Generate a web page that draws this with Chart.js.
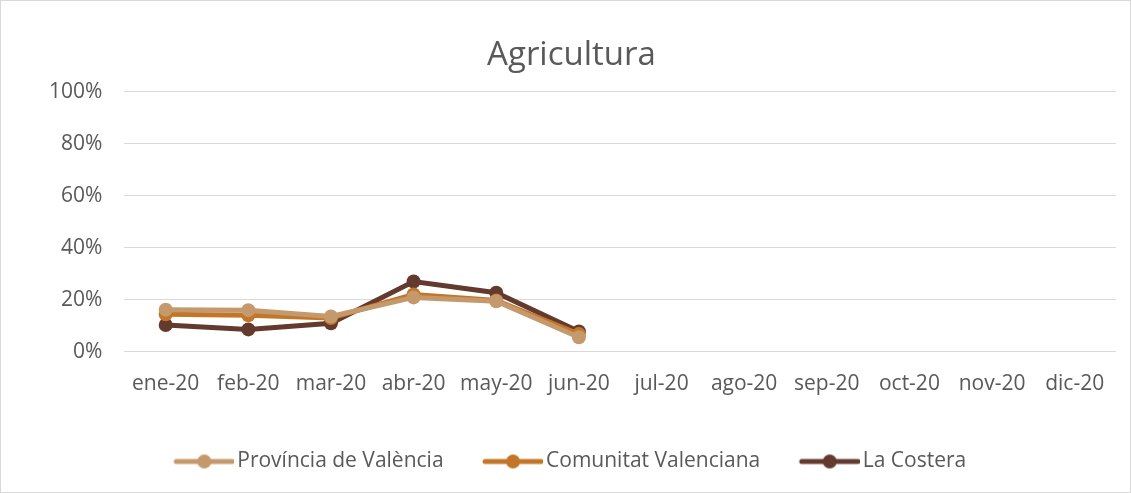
<!DOCTYPE html>
<html>
<head>
<meta charset="utf-8">
<script src="https://cdn.jsdelivr.net/npm/chart.js@4"></script>
<style>
  html, body { margin: 0; padding: 0; background: #fff; }
  #wrap { position: relative; width: 1129px; height: 491px; border: 1px solid #d9d9d9; }
</style>
</head>
<body>
<div id="wrap"><canvas id="c"></canvas></div>
<script>
  const months = ['ene-20', 'feb-20', 'mar-20', 'abr-20', 'may-20', 'jun-20',
    'jul-20', 'ago-20', 'sep-20', 'oct-20', 'nov-20', 'dic-20'];
  const provincia = [16.2, 16.0, 13.6, 20.9, 19.4, 5.6, null, null, null, null, null, null];
  const comunitat = [14.4, 14.0, 13.0, 22.0, 19.7, 6.8, null, null, null, null, null, null];
  const costera = [10.3, 8.6, 11.0, 27.0, 22.7, 7.8, null, null, null, null, null, null];
  const yTicks = [0, 20, 40, 60, 80, 100];

  const textColor = '#595959';
  const font = "'Open Sans', sans-serif";

  // legend swatch: line with the marker in the middle, pushed to the right
  // so it sits close to its text
  function marker(color) {
    const cv = document.createElement('canvas');
    cv.width = 65; cv.height = 16;
    const g = cv.getContext('2d');
    g.strokeStyle = color; g.lineWidth = 5; g.lineCap = 'round';
    g.beginPath(); g.moveTo(7, 8); g.lineTo(63, 8); g.stroke();
    g.fillStyle = color;
    g.beginPath(); g.arc(35, 8, 7, 0, Math.PI * 2); g.fill();
    return cv;
  }

  function series(label, data, color) {
    return {
      label: label,
      data: data,
      borderColor: color,
      backgroundColor: color,
      borderWidth: 5,
      pointRadius: 7,
      pointHoverRadius: 7,
      pointBorderWidth: 0,
      tension: 0,
      legendMarker: marker(color)
    };
  }

  new Chart(document.getElementById('c'), {
    type: 'line',
    data: {
      labels: months,
      datasets: [
        series('Província de València', provincia, '#c4996c'),
        series('Comunitat Valenciana', comunitat, '#c47628'),
        series('La Costera', costera, '#643a2e')
      ]
    },
    options: {
      responsive: true,
      maintainAspectRatio: false,
      animation: false,
      layout: { padding: { left: 26, right: 14, top: 18, bottom: 10 } },
      scales: {
        x: {
          offset: true,
          grid: { display: false },
          border: { display: false },
          ticks: { color: textColor, font: { size: 21, family: font }, padding: 12, maxRotation: 0 }
        },
        y: {
          min: 0,
          max: 100,
          afterBuildTicks: function (axis) { axis.ticks = yTicks.map(function (v) { return { value: v }; }); },
          grid: { color: '#d9d9d9', lineWidth: 1, drawTicks: false },
          border: { display: false },
          ticks: {
            color: textColor,
            font: { size: 21, family: font },
            padding: 22,
            callback: function (v) { return v + '%'; }
          }
        }
      },
      plugins: {
        title: {
          display: true,
          text: 'Agricultura',
          color: textColor,
          font: { size: 33, family: font, weight: 'normal' },
          padding: { top: 17, bottom: 16 }
        },
        legend: {
          position: 'bottom',
          labels: {
            color: textColor,
            font: { size: 21, family: font },
            usePointStyle: true,
            pointStyleWidth: 50,
            padding: 42,
            generateLabels: function (chart) {
              return chart.data.datasets.map(function (ds, i) {
                return {
                  text: ds.label,
                  fontColor: textColor,
                  pointStyle: ds.legendMarker,
                  datasetIndex: i,
                  hidden: false,
                  lineWidth: 0
                };
              });
            }
          }
        },
        tooltip: { enabled: false }
      }
    }
  });
</script>
</body>
</html>
